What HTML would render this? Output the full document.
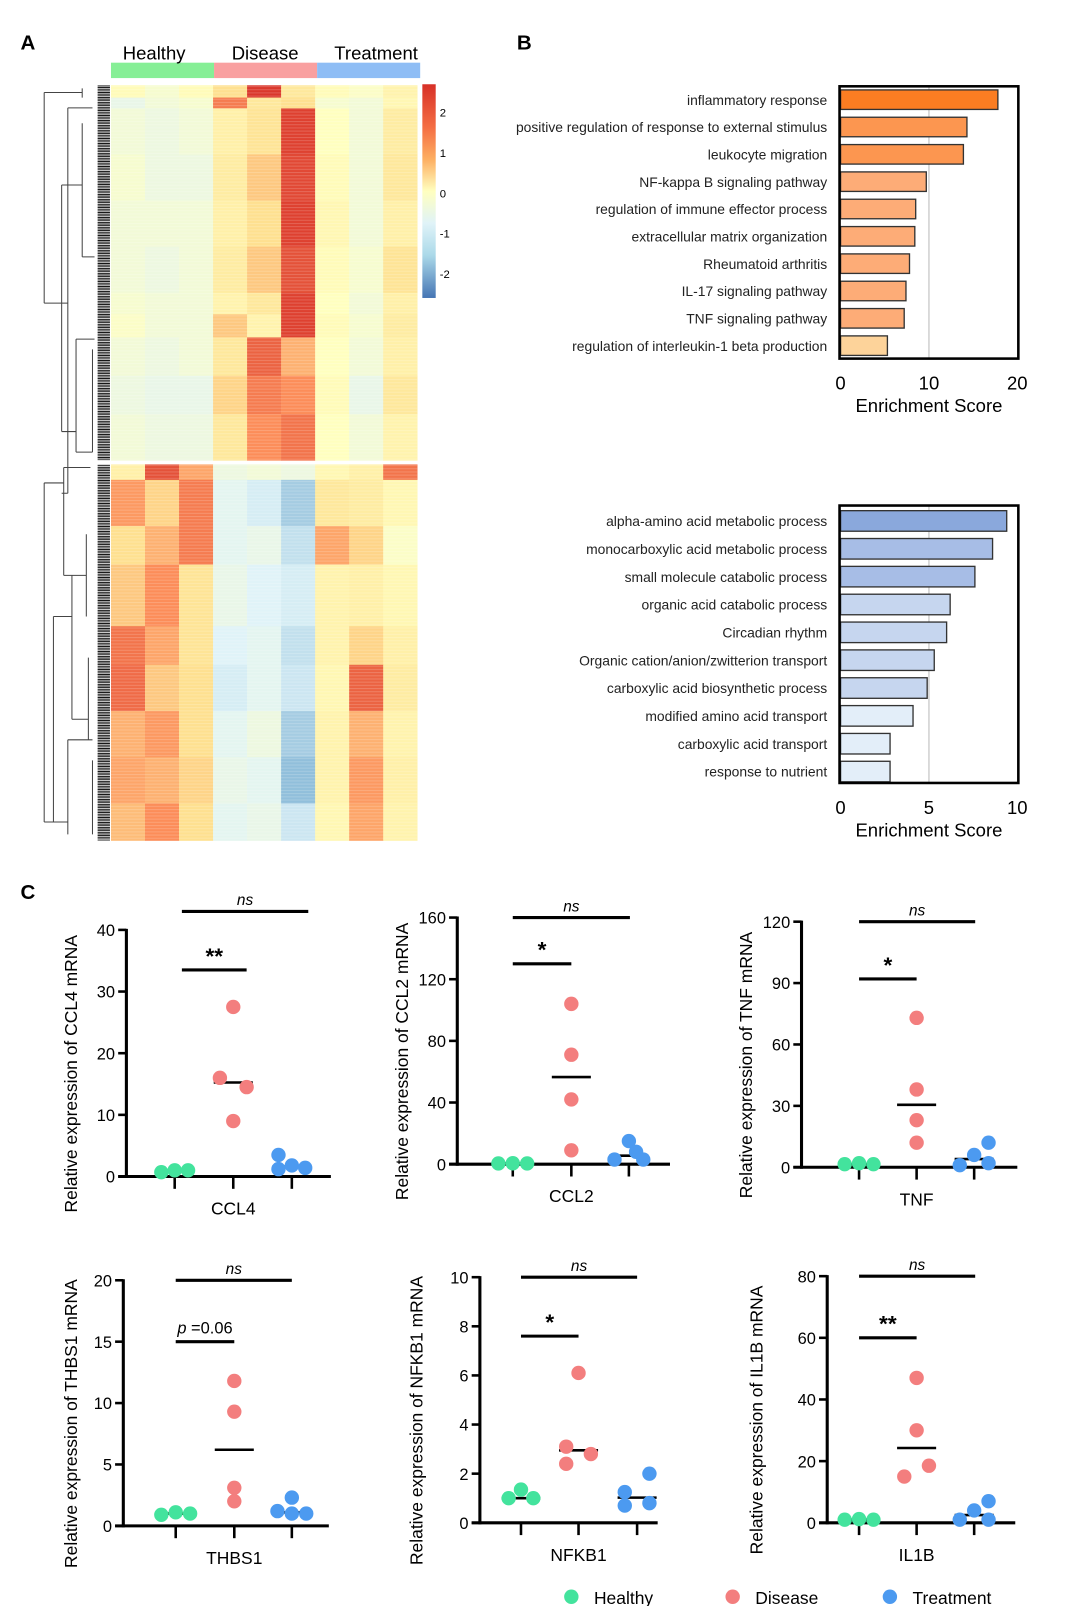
<!DOCTYPE html>
<html><head><meta charset="utf-8"><style>
html,body{margin:0;padding:0;background:#fff;}
svg{display:block;font-family:"Liberation Sans",Arial,sans-serif;}
</style></head><body>
<svg id="fig" width="1080" height="1606" viewBox="0 0 1051 1563" preserveAspectRatio="none" xmlns="http://www.w3.org/2000/svg">
<defs>
<linearGradient id="cbar" x1="0" y1="0" x2="0" y2="1">
<stop offset="0" stop-color="#d73027"/><stop offset="0.2" stop-color="#f46d43"/><stop offset="0.35" stop-color="#fdae61"/><stop offset="0.5" stop-color="#ffffbf"/><stop offset="0.65" stop-color="#e0f3f8"/><stop offset="0.8" stop-color="#abd9e9"/><stop offset="1" stop-color="#4575b4"/>
</linearGradient>
<pattern id="stripes" width="4" height="3.1" patternUnits="userSpaceOnUse"><rect width="4" height="1" fill="#fff" opacity="0.18"/></pattern>
<pattern id="comb" width="12" height="1.6" patternUnits="userSpaceOnUse"><rect width="12" height="0.9" fill="#000"/></pattern>
</defs>
<text x="20" y="48" font-size="20" font-weight="bold">A</text>
<text x="503" y="48" font-size="20" font-weight="bold">B</text>
<text x="20" y="875" font-size="20" font-weight="bold">C</text>
<g id="heat"></g>
<g id="bars"></g>
<g id="scat"></g>
</svg>
<script>
// ---------- Heatmap data ----------
const heatGroups = ["Healthy","Disease","Treatment"];
const heatTopCounts = [8,7,30,30,30,30,14,15,25,25,30];
const heatTopValues = [
 [0.1,-0.2,0.1, 0.8,2.5,0.6, 0.1,-0.1,0.3],
 [-0.5,-0.3,-0.2, 1.7,0.6,0.8, -0.2,-0.3,0.2],
 [-0.3,-0.4,-0.3, 0.4,0.7,2.4, 0.0,-0.3,0.5],
 [-0.2,-0.4,-0.4, 0.5,1.0,2.3, 0.1,-0.3,0.6],
 [-0.3,-0.3,-0.3, 0.4,0.8,2.4, 0.2,-0.3,0.4],
 [-0.3,-0.4,-0.3, 0.5,1.0,2.2, 0.1,-0.2,0.7],
 [-0.2,-0.3,-0.3, 0.3,0.6,2.4, 0.0,-0.3,0.4],
 [-0.1,-0.3,-0.3, 1.0,0.3,2.4, 0.1,-0.2,0.5],
 [-0.3,-0.4,-0.3, 0.6,2.0,1.2, 0.0,-0.3,0.4],
 [-0.4,-0.5,-0.5, 0.9,1.7,1.5, 0.1,-0.5,0.6],
 [-0.3,-0.4,-0.4, 0.6,1.5,1.8, 0.0,-0.3,0.3]];
const heatBotCounts = [10,30,25,40,25,30,30,30,24];
const heatBotValues = [
 [0.4,2.2,1.3, -0.4,-0.3,-0.4, 0.2,0.4,1.8],
 [1.4,0.9,1.7, -0.6,-0.8,-1.3, 0.6,0.5,0.2],
 [0.8,1.2,1.7, -0.6,-0.5,-1.0, 1.3,0.9,-0.1],
 [1.0,1.5,0.7, -0.5,-0.7,-0.8, 0.3,0.4,0.2],
 [1.8,1.3,0.7, -0.7,-0.6,-1.0, 0.3,0.9,0.4],
 [1.9,1.0,0.8, -0.8,-0.6,-0.9, 0.2,2.0,0.5],
 [1.2,1.4,0.8, -0.6,-0.4,-1.3, 0.3,1.2,0.3],
 [1.3,1.2,0.9, -0.5,-0.6,-1.5, 0.3,1.4,0.4],
 [1.1,1.5,0.8, -0.6,-0.5,-0.9, 0.2,1.3,0.3]];
const colorTicks = [2,1,0,-1,-2];

// ---------- Enrichment data ----------
const upTerms = ["inflammatory response","positive regulation of response to external stimulus","leukocyte migration","NF-kappa B signaling pathway","regulation of immune effector process","extracellular matrix organization","Rheumatoid arthritis","IL-17 signaling pathway","TNF signaling pathway","regulation of interleukin-1 beta production"];
const upScores = [17.8,14.3,13.9,9.7,8.5,8.4,7.8,7.4,7.2,5.3];
const upTicks = [0,10,20];
const downTerms = ["alpha-amino acid metabolic process","monocarboxylic acid metabolic process","small molecule catabolic process","organic acid catabolic process","Circadian rhythm","Organic cation/anion/zwitterion transport","carboxylic acid biosynthetic process","modified amino acid transport","carboxylic acid transport","response to nutrient"];
const downScores = [9.4,8.6,7.6,6.2,6.0,5.3,4.9,4.1,2.8,2.8];
const downTicks = [0,5,10];

// ---------- qPCR data ----------
const genes = ["CCL4","CCL2","TNF","THBS1","NFKB1","IL1B"];
const healthyVals = [[0.7,1.0,1.0],[0.5,0.6,0.5],[1.5,2.0,1.5],[0.9,1.1,1.0],[1.0,1.35,1.0],[1.0,1.2,1.0]];
const diseaseVals = [[27.5,16,14.5,9],[104,71,42,9],[73,38,23,12],[11.8,9.3,3.1,2.0],[6.1,3.1,2.8,2.4],[47,30,15,18.5]];
const treatVals = [[3.5,1.2,1.8,1.4],[3,15,3,8],[12,6,1,2],[2.3,1.2,1.0,1.0],[2.0,1.25,0.7,0.8],[7,4,1,1]];
const yMaxes = [40,160,120,20,10,80];
const yTickLists = [[0,10,20,30,40],[0,40,80,120,160],[0,30,60,90,120],[0,5,10,15,20],[0,2,4,6,8,10],[0,20,40,60,80]];
const sigLabels = ["**","*","*","p =0.06","*","**"];
const sigLevels = [33.5,130,92,15,7.6,60];
const nsLevels = [43,160,120,20,10,80];

const NS="http://www.w3.org/2000/svg";
function mk(tag, attrs, parent){const e=document.createElementNS(NS,tag);for(const k in attrs)e.setAttribute(k,attrs[k]);parent.appendChild(e);return e;}

const cStops=[[-2.6,[69,117,180]],[-1.5,[145,191,219]],[-0.7,[224,243,248]],[0,[255,255,191]],[0.8,[254,224,144]],[1.5,[252,141,89]],[2.6,[215,48,39]]];
function heatColor(v){v=Math.max(-2.6,Math.min(2.6,v));for(let i=1;i<cStops.length;i++){if(v<=cStops[i][0]){const a=cStops[i-1],b=cStops[i];const t=(v-a[0])/(b[0]-a[0]);return "rgb("+a[1].map((c,j)=>Math.round(c+(b[1][j]-c)*t)).join(",")+")";}}return "rgb(215,48,39)";}

// ---------- Heatmap ----------
(function(){
 const g=document.getElementById('heat');
 const x0=108,x1=406,cw=(x1-x0)/9;
 const hdrCols=["#86ef96","#f9a0a0","#8ebdf5"];
 heatGroups.forEach((nm,i)=>{
  const r=mk('rect',{x:108+i*100.3,y:61,width:100.3,height:15,fill:hdrCols[i]},g);
  
  
  const t=mk('text',{x:150+i*108,y:58,'font-size':18,'text-anchor':'middle'},g);
  t.textContent=nm;
  
  
 });
 function drawBlock(counts,vals,yStart,yEnd){
  const total=counts.reduce((a,b)=>a+b,0);const rh=(yEnd-yStart)/total;let y=yStart;
  counts.forEach((n,si)=>{
   for(let c=0;c<9;c++){
    const r=mk('rect',{x:x0+c*cw,y:y,width:cw+0.3,height:n*rh+0.3,fill:heatColor(vals[si][c])},g);
    
    
   }
   y+=n*rh;
  });
  mk('rect',{x:x0,y:yStart,width:x1-x0,height:yEnd-yStart,fill:'url(#stripes)'},g);
  const cb=mk('rect',{x:95,y:yStart,width:12,height:yEnd-yStart,fill:'url(#comb)'},g);
  
  
 }
 drawBlock(heatTopCounts,heatTopValues,83,448);
 drawBlock(heatBotCounts,heatBotValues,452,818);
 const d=mk('path',{fill:'none',stroke:'#444','stroke-width':1,d:
 'M43,90V295 M43,90H80 M80,86V95 M43,295H66 M66,105V480 M66,105H90 M66,480H60 M60,180V420 M60,180H80 M60,420H74 M80,120V250 M74,330V440 M80,250H92 M74,330H92 M74,440H90 M90,340V440 '+
 'M43,470V800 M43,470H62 M43,800H52 M62,455V560 M52,600V800 M52,600H70 M52,800H66 M70,560V700 M66,720V812 M62,455H88 M62,560H84 M70,700H86 M66,720H90 M84,520V600 M86,640V720 M90,740V812'},g);
 
 
 const cbr=mk('rect',{x:411,y:82,width:13,height:208,fill:'url(#cbar)'},g);
 
 
 colorTicks.forEach(v=>{
  const t=mk('text',{x:428,y:188-v*39.3+4,'font-size':11},g);
  t.textContent=v;
  
  
 });
})();

// ---------- Enrichment bars ----------
function enrich(terms,scores,ticks,cfg){
 const g=document.getElementById('bars');
 const xs=v=>cfg.x0+v*cfg.scale;
 const gl=mk('line',{x1:xs(ticks[1]),x2:xs(ticks[1]),y1:cfg.top,y2:cfg.bottom,stroke:'#d0d0d0','stroke-width':1.5},g);
 
 
 terms.forEach((t,i)=>{
  const cy=cfg.y0+i*cfg.step;
  const b=mk('rect',{x:cfg.x0,y:cy-cfg.h/2,width:xs(scores[i])-cfg.x0,height:cfg.h,fill:cfg.colors[i],stroke:'#333','stroke-width':1.3},g);
  
  
  const l=mk('text',{x:805,y:cy+5,'font-size':13.5,'text-anchor':'end',fill:'#222'},g);
  l.textContent=t;
  
  
 });
 const f=mk('rect',{x:cfg.x0-1,y:cfg.top,width:xs(ticks[2])-cfg.x0+2,height:cfg.bottom-cfg.top,fill:'none',stroke:'#000','stroke-width':2.5},g);
 
 
 ticks.forEach(v=>{
  const t=mk('text',{x:xs(v),y:cfg.bottom+30,'font-size':18,'text-anchor':'middle'},g);
  t.textContent=v;
  
  
 });
 const tt=mk('text',{x:xs(ticks[1]),y:cfg.bottom+52,'font-size':18,'text-anchor':'middle'},g);
 tt.textContent='Enrichment Score';
 
 
}
enrich(upTerms,upScores,upTicks,{x0:818,scale:8.6,y0:97,step:26.6,h:19,top:84,bottom:349,prefix:'up',
 colors:['#fb7d22','#fc9650','#fc9650','#fdac77','#fdac77','#fdac77','#fdac77','#fdac77','#fdac77','#fdd39a']});
enrich(downTerms,downScores,downTicks,{x0:818,scale:17.2,y0:507,step:27.1,h:20,top:492,bottom:762,prefix:'down',
 colors:['#8aa8dc','#a7bde6','#a7bde6','#c6d6ef','#c6d6ef','#c6d6ef','#c6d6ef','#e3eef9','#e3eef9','#e3eef9']});

// ---------- Scatter panels ----------
const panelLayout=[
 {ax:123,y0:1145,yt:905,xe:322,c:[170,227,284],tx:75,bs:7,be1:13,be2:16,off:[[-13,0,13],[0,-13,13,0],[-13,-13,0,13]]},
 {ax:445,y0:1133,yt:893,xe:652,c:[499,556,612],tx:397,bs:0,be1:0,be2:1,off:[[-14,0,14],[0,0,0,0],[-14,0,14,7]]},
 {ax:780,y0:1136,yt:897,xe:990,c:[836,892,948],tx:732,bs:0,be1:0,be2:1,off:[[-14,0,14],[0,0,0,0],[14,0,-14,14]]},
 {ax:120,y0:1485,yt:1246,xe:320,c:[171,228,284],tx:75,bs:0,be1:0,be2:0,off:[[-14,0,14],[0,0,0,0],[0,-14,0,14]]},
 {ax:467,y0:1482,yt:1243,xe:640,c:[507,563,620],tx:411,bs:0,be1:0,be2:0,off:[[-12,0,12],[0,-12,12,-12],[12,-12,-12,12]]},
 {ax:805,y0:1482,yt:1242,xe:988,c:[836,892,948],tx:742,bs:0,be1:0,be2:1,off:[[-14,0,14],[0,0,-12,12],[14,0,-14,14]]}];
const grpColors=['#43e39d','#f37e7e','#4c9af0'];
function median(a){const s=[...a].sort((x,y)=>x-y);const n=s.length;return n%2?s[(n-1)/2]:(s[n/2-1]+s[n/2])/2;}
(function(){
 const g=document.getElementById('scat');
 genes.forEach((gene,p)=>{
  const L=panelLayout[p];const ys=v=>L.y0-(v/yMaxes[p])*(L.y0-L.yt);
  const ya=mk('line',{x1:L.ax,x2:L.ax,y1:L.yt-1,y2:L.y0+1.5,stroke:'#000','stroke-width':3},g);
  
  
  const xa=mk('line',{x1:L.ax-8,x2:L.xe,y1:L.y0,y2:L.y0,stroke:'#000','stroke-width':3},g);
  
  
  yTickLists[p].forEach(v=>{
   const tk=mk('line',{x1:L.ax-8,x2:L.ax,y1:ys(v),y2:ys(v),stroke:'#000','stroke-width':2.5},g);
   
   
   const t=mk('text',{x:L.ax-11,y:ys(v)+6,'font-size':16,'text-anchor':'end'},g);
   t.textContent=v;
   
   
  });
  L.c.forEach(cx=>{
   const tk=mk('line',{x1:cx,x2:cx,y1:L.y0,y2:L.y0+12,stroke:'#000','stroke-width':2.5},g);
   
   
  });
  const cl=mk('text',{x:L.c[1],y:L.y0+37,'font-size':17,'text-anchor':'middle'},g);
  cl.textContent=gene;
  
  
  const yt=mk('text',{x:0,y:0,'font-size':17,'text-anchor':'middle',transform:'translate('+L.tx+','+((L.y0+L.yt)/2+20)+') rotate(-90)'},g);
  yt.textContent='Relative expression of '+gene+' mRNA';
  
  
  [healthyVals[p],diseaseVals[p],treatVals[p]].forEach((vals,gi)=>{
   const m=median(vals);
   const ml=mk('line',{x1:L.c[gi]-19,x2:L.c[gi]+19,y1:ys(m),y2:ys(m),stroke:'#000','stroke-width':2.5},g);
   
   
   vals.forEach((v,k)=>{
    const c=mk('circle',{cx:L.c[gi]+L.off[gi][k],cy:ys(v),r:7,fill:grpColors[gi]},g);
    
    
   });
  });
  const xs0=L.c[0]+L.bs;
  const sy=ys(sigLevels[p]);
  const sb=mk('line',{x1:xs0,x2:L.c[1]+L.be1,y1:sy,y2:sy,stroke:'#000','stroke-width':3},g);
  
  
  const st=mk('text',{x:(xs0+L.c[1]+L.be1)/2,y:sy-(p===3?8:6),'font-size':p===3?16:22,'font-weight':p===3?'normal':'bold','text-anchor':'middle'},g);
  if(p===3){st.innerHTML='<tspan font-style="italic">p</tspan> =0.06';}else{st.textContent=sigLabels[p];}
  
  
  const ny=ys(nsLevels[p]);
  const nb=mk('line',{x1:xs0,x2:L.c[2]+L.be2,y1:ny,y2:ny,stroke:'#000','stroke-width':3},g);
  
  
  const nt=mk('text',{x:(xs0+L.c[2]+L.be2)/2,y:ny-6,'font-size':15,'font-style':'italic','text-anchor':'middle'},g);
  nt.textContent='ns';
  
  
 });
 const legX=[556,713,866];
 heatGroups.forEach((nm,i)=>{
  const c=mk('circle',{cx:legX[i],cy:1554,r:7,fill:grpColors[i]},g);
  
  
  const t=mk('text',{x:legX[i]+22,y:1561,'font-size':17},g);
  t.textContent=nm;
  
  
 });
})();
</script>
</body></html>
